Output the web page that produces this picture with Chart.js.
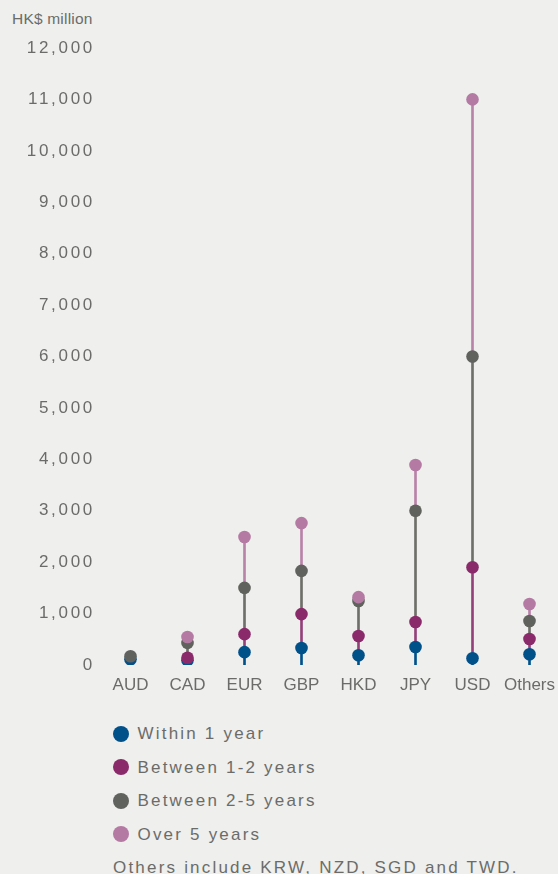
<!DOCTYPE html>
<html>
<head>
<meta charset="utf-8">
<script src="https://cdn.jsdelivr.net/npm/chart.js@4"></script>
<style>
  html, body { margin: 0; padding: 0; background: #efefed; }
  body {
    width: 558px; height: 874px; position: relative; overflow: hidden;
    font-family: "Liberation Sans", Arial, sans-serif; color: #6b6c69;
  }
  #unit { position: absolute; left: 12px; top: 10px; font-size: 15.5px; line-height: 18px; letter-spacing: 0.2px; }
  #wrap { position: absolute; left: 0; top: 0; width: 558px; height: 700px; }
  #legend {
    position: absolute; left: 113px; top: 717px; margin: 0; padding: 0; list-style: none;
    font-size: 17px; letter-spacing: 2.2px;
  }
  #legend li { height: 33.5px; line-height: 33.5px; display: flex; align-items: center; white-space: nowrap; }
  #legend .dot { width: 16px; height: 16px; border-radius: 50%; margin-right: 8.5px; flex: none; }
</style>
</head>
<body>
<div id="unit">HK$ million</div>
<div id="wrap"><canvas id="chart" width="558" height="700"></canvas></div>
<ul id="legend"></ul>
<script>
// Maturity profile by currency (HK$ million)
const categories = ['AUD', 'CAD', 'EUR', 'GBP', 'HKD', 'JPY', 'USD', 'Others'];
const within1Year      = [110,   90,  250,  330,  190,  350,   130,  210];
const between1And2Yrs  = [null, 140,  600,  990,  565,  835,  1900,  505];
const between2And5Yrs  = [170,  430, 1500, 1830, 1245, 3000,  6000,  855];
const over5Years       = [null, 545, 2490, 2760, 1320, 3890, 11000, 1185];

const seriesNames  = ['Within 1 year', 'Between 1-2 years', 'Between 2-5 years', 'Over 5 years'];
const seriesColors = ['#00508a', '#8b2a6b', '#60625e', '#b47aa4'];
const stemColors   = ['#00508a', '#94407a', '#6e6f6a', '#b882a9'];
const noteText = 'Others include KRW, NZD, SGD and TWD.';

const series = [within1Year, between1And2Yrs, between2And5Yrs, over5Years];

// Each stem runs from the previous plotted point (or the axis) up to this series' point
function stems(i) {
  return categories.map((_, c) => {
    const top = series[i][c];
    if (top == null) return null;
    let base = 0;
    for (let j = i - 1; j >= 0; j--) {
      if (series[j][c] != null) { base = series[j][c]; break; }
    }
    return [base, top];
  });
}

const datasets = [];
series.forEach((values, i) => {
  datasets.push({
    type: 'line',
    label: seriesNames[i],
    data: values,
    showLine: false,
    pointRadius: 6.3,
    pointHoverRadius: 6.3,
    pointBorderWidth: 0,
    pointBackgroundColor: seriesColors[i],
    backgroundColor: seriesColors[i],
    order: 4 - i
  });
  datasets.push({
    type: 'bar',
    label: seriesNames[i] + ' stem',
    data: stems(i),
    backgroundColor: stemColors[i],
    borderWidth: 0,
    barThickness: 2,
    grouped: false,
    order: 10 + i
  });
});

const tickColor = '#6b6c69';

new Chart(document.getElementById('chart'), {
  type: 'bar',
  data: { labels: categories, datasets },
  options: {
    responsive: false,
    animation: false,
    events: [],
    layout: { autoPadding: false, padding: { top: 48, right: 0, bottom: 0, left: 0 } },
    plugins: { legend: { display: false }, tooltip: { enabled: false } },
    scales: {
      x: {
        offset: true,
        grid: { display: false, drawTicks: false },
        border: { display: false },
        ticks: {
          color: tickColor, padding: 10, maxRotation: 0, autoSkip: false,
          font: { family: '"Liberation Sans", Arial, sans-serif', size: 17 }
        },
        afterFit(scale) {
          scale.height = 35;
          scale.paddingLeft = 0;
          scale.paddingRight = 0;
        }
      },
      y: {
        min: 0, max: 12000,
        grid: { display: false, drawTicks: false },
        border: { display: false },
        ticks: {
          stepSize: 1000, color: tickColor, padding: 7,
          font: { family: '"Liberation Sans", Arial, sans-serif', size: 17 },
          callback: (v) => v.toLocaleString('en-US')
        },
        afterFit(scale) {
          scale.width = 102;
          if (!scale._spaced) {
            const draw = scale.drawLabels.bind(scale);
            scale.drawLabels = (area) => {
              const ctx = scale.ctx;
              const prev = ctx.letterSpacing;
              ctx.letterSpacing = '2.7px';
              draw(area);
              ctx.letterSpacing = prev;
            };
            scale._spaced = true;
          }
        }
      }
    }
  }
});

// Legend and footnote
const legend = document.getElementById('legend');
seriesNames.forEach((name, i) => {
  const li = document.createElement('li');
  const dot = document.createElement('span');
  dot.className = 'dot';
  dot.style.background = seriesColors[i];
  li.appendChild(dot);
  li.appendChild(document.createTextNode(name));
  legend.appendChild(li);
});
const note = document.createElement('li');
note.textContent = noteText;
legend.appendChild(note);
</script>
</body>
</html>
